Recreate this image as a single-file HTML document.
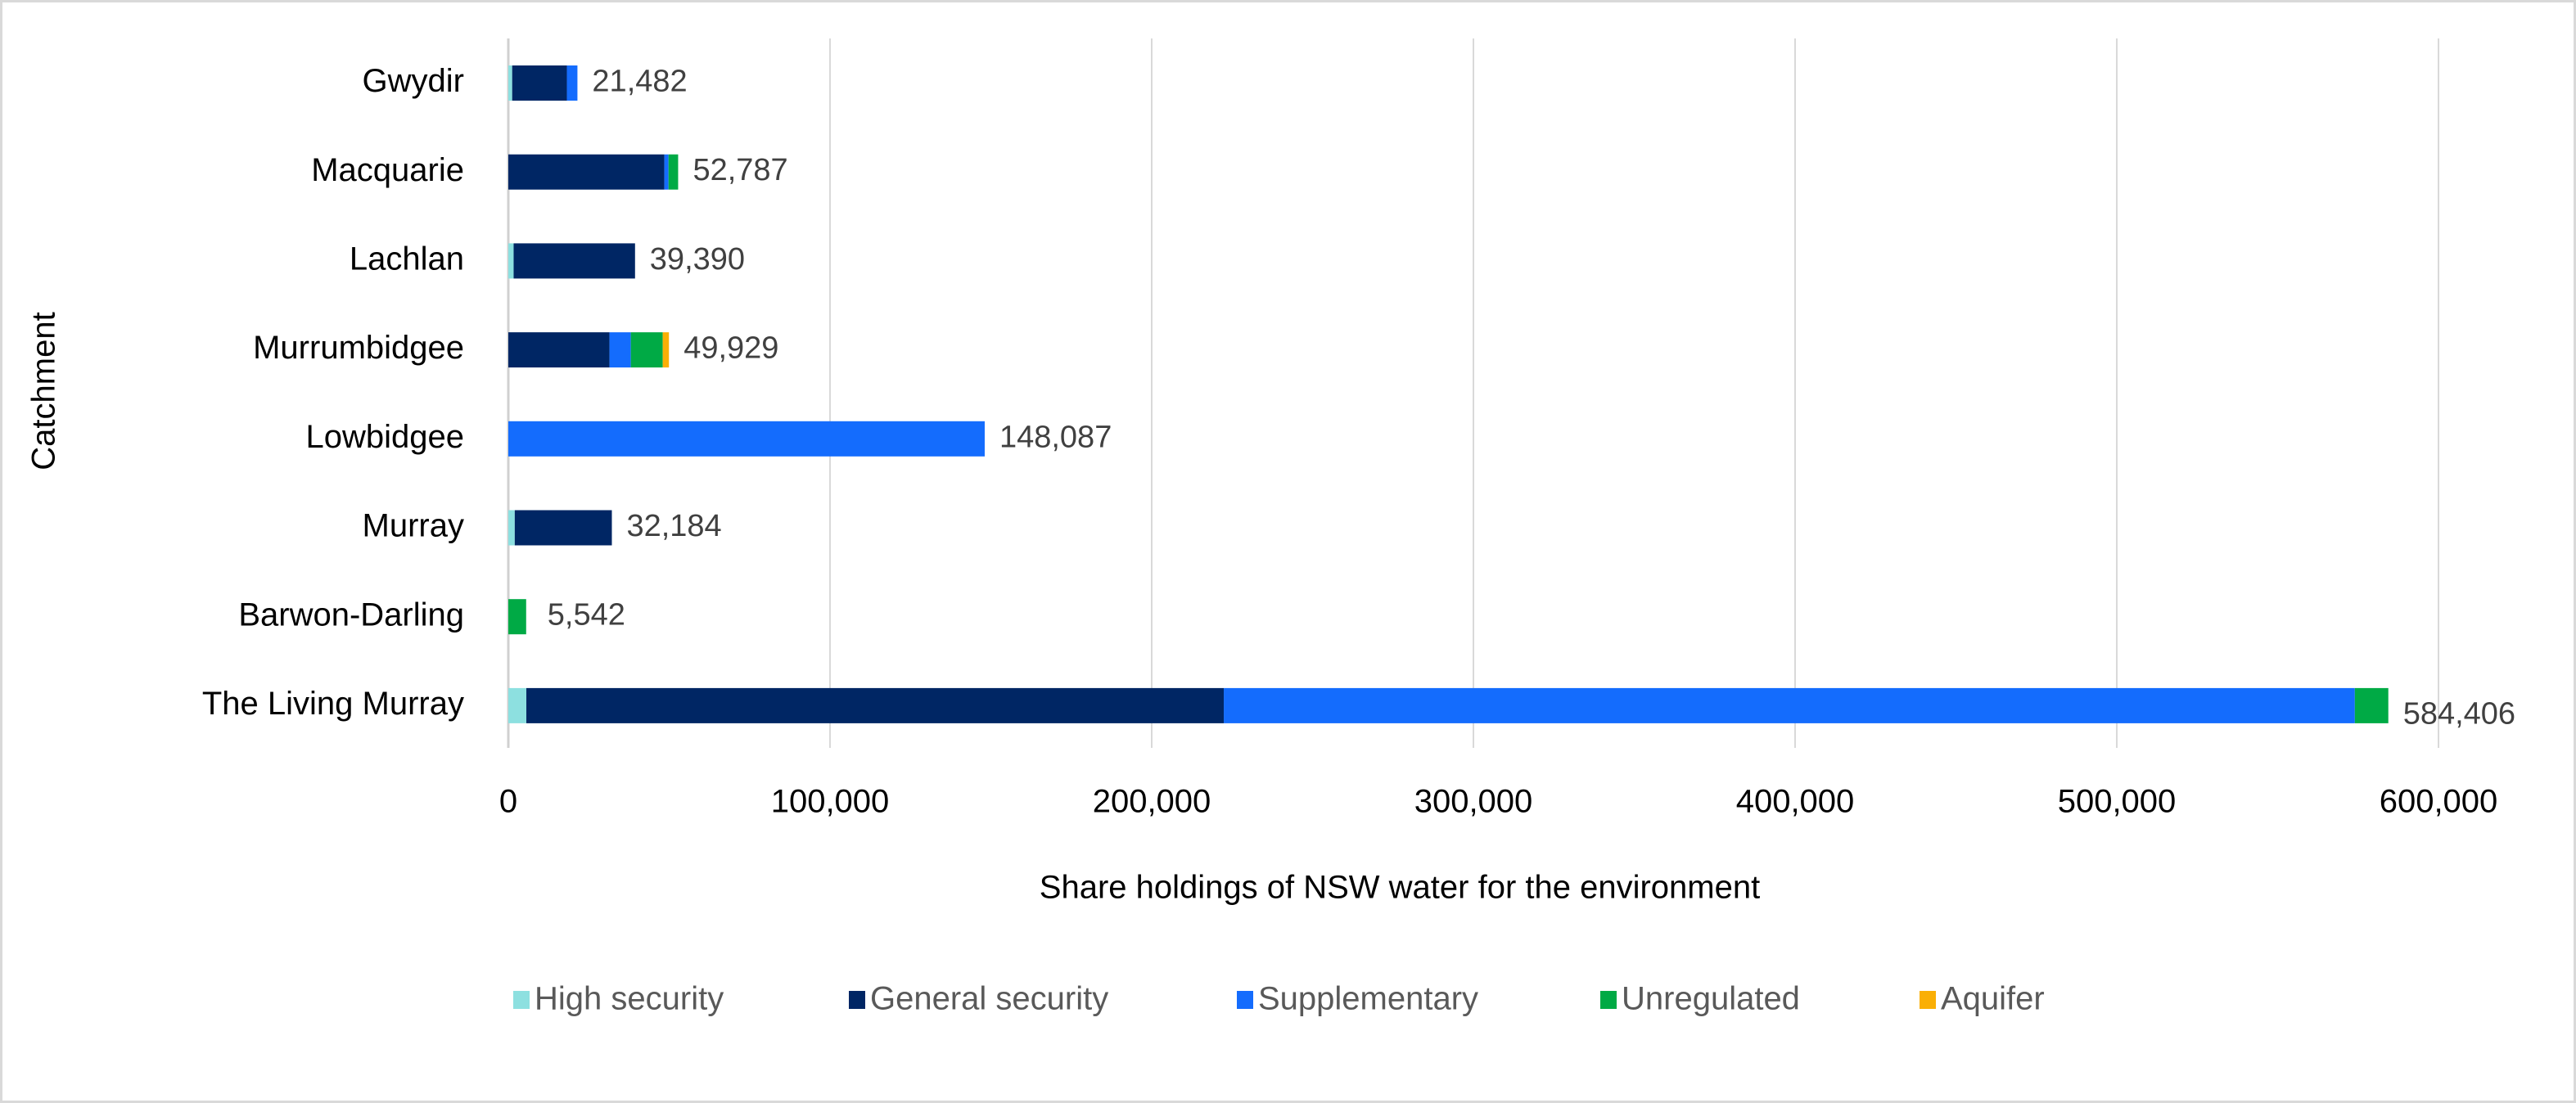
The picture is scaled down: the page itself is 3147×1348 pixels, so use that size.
<!DOCTYPE html>
<html><head><meta charset="utf-8"><style>
body{margin:0;background:#fff;}
svg{display:block;font-family:"Liberation Sans",sans-serif;}
</style></head><body>
<svg id="chart" width="3147" height="1348" viewBox="0 0 3147 1348">
<rect x="1.5" y="1.5" width="3144" height="1345" fill="#fff" stroke="#d9d9d9" stroke-width="3"/>
<g id="grid"></g><g id="bars"></g><g id="labels"></g>
<text x="56" y="478" transform="rotate(-90 56 478)" text-anchor="middle" dominant-baseline="middle" font-size="40" fill="#000">Catchment</text>
<text x="1710" y="1087" text-anchor="middle" dominant-baseline="middle" font-size="40" fill="#000">Share holdings of NSW water for the environment</text>
<g id="legend"></g>
</svg>
<script>
const categories=["Gwydir","Macquarie","Lachlan","Murrumbidgee","Lowbidgee","Murray","Barwon-Darling","The Living Murray"];
const seriesNames=["High security","General security","Supplementary","Unregulated","Aquifer"];
const highSecurity=[1200,0,1650,0,0,2000,0,5600];
const generalSecurity=[17000,48500,37740,31450,0,30184,0,216800];
const supplementary=[3282,1300,0,6630,148087,0,0,351600];
const unregulated=[0,2987,0,9920,0,0,5542,10406];
const aquifer=[0,0,0,1929,0,0,0,0];
const totals=[21482,52787,39390,49929,148087,32184,5542,584406];
const xTicks=[0,100000,200000,300000,400000,500000,600000];
const colors=["#8de0e0","#002664","#146cfd","#00aa45","#faaf05"];
const series=[highSecurity,generalSecurity,supplementary,unregulated,aquifer];
const NS="http://www.w3.org/2000/svg";
const x0=621,pxPer=393/100000,yTop=101.5,step=108.7,bh=43;
const xs=v=>x0+v*pxPer, ys=i=>yTop+i*step;
function mk(t,a,p){const e=document.createElementNS(NS,t);for(const k in a)e.setAttribute(k,a[k]);p.appendChild(e);return e;}
const fmt=v=>v.toLocaleString('en-US');
const grid=document.getElementById('grid'),bars=document.getElementById('bars'),labels=document.getElementById('labels'),legend=document.getElementById('legend');
xTicks.forEach(t=>{
 const l=mk('line',{x1:xs(t),x2:xs(t),y1:47,y2:914,stroke:t===0?'#d0d0d0':'#d9d9d9','stroke-width':t===0?3:2},grid);
 
 
 const tx=mk('text',{x:xs(t),y:982,'text-anchor':'middle','dominant-baseline':'middle','font-size':40,fill:'#000'},labels);
 tx.textContent=fmt(t);
 
 
});
categories.forEach((c,i)=>{
 const cy=ys(i);
 const tl=mk('text',{x:567,y:cy,'text-anchor':'end','dominant-baseline':'middle','font-size':40,fill:'#000'},labels);
 tl.textContent=c;
 
 
 let acc=0;
 series.forEach((s,j)=>{
  const v=s[i]; if(!v)return;
  const r=mk('rect',{x:xs(acc),y:cy-bh/2,width:v*pxPer,height:bh,fill:colors[j]},bars);
  
  
  acc+=v;
 });
 const vl=mk('text',{x:xs(totals[i])+(i===6?26:18),y:cy+(i===7?12:0),'text-anchor':'start','dominant-baseline':'middle','font-size':38,fill:'#404040'},labels);
 vl.textContent=fmt(totals[i]);
 
 
});
const lx=[627,1037,1511,1955,2345];
seriesNames.forEach((n,j)=>{
 const sw=mk('rect',{x:lx[j],y:1211,width:20,height:22,fill:colors[j]},legend);
 
 
 const t=mk('text',{x:lx[j]+26,y:1223,'dominant-baseline':'middle','font-size':40,fill:'#595959'},legend);
 t.textContent=n;
 
 
});
</script>
</body></html>
